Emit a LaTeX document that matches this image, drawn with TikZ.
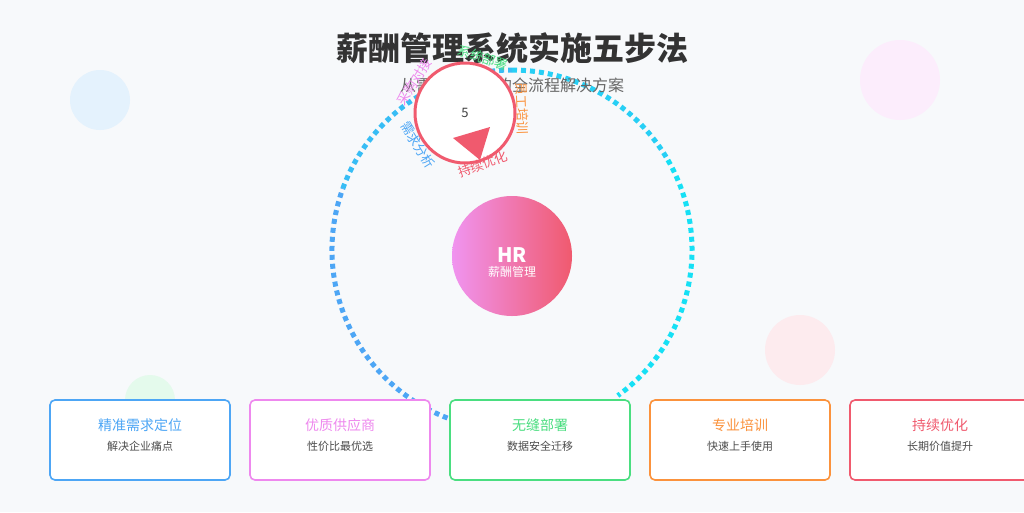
\documentclass[tikz,border=0pt]{standalone}
\usepackage{fontspec}
\setmainfont{Noto Sans CJK SC}
\usetikzlibrary{shadings}
\definecolor{bg}{HTML}{F7F9FB}
\definecolor{cblue}{HTML}{4DA6F5}
\definecolor{ccyan}{HTML}{16E0F5}
\definecolor{cpurp}{HTML}{EE88EE}
\definecolor{cgreen}{HTML}{4ADE80}
\definecolor{corange}{HTML}{FB923C}
\definecolor{cred}{HTML}{F05A6E}
\tikzset{card/.style={draw, line width=1.6pt, rounded corners=5pt, fill=white, minimum width=180pt, minimum height=80pt},
ctitle/.style={font=\fontsize{14}{16}\selectfont},
csub/.style={font=\fontsize{11}{13}\selectfont, text=black!70},
lab/.style={font=\fontsize{13}{15}\selectfont}}
\begin{document}
\begin{tikzpicture}[x=1pt,y=-1pt]
\fill[bg] (0,0) rectangle (1024,512);
\useasboundingbox (0,0) rectangle (1024,512);
\fill[cblue!15] (100,100) circle (30);
\fill[cpurp!15] (900,80) circle (40);
\fill[cred!12] (800,350) circle (35);
\fill[cgreen!15] (150,400) circle (25);
% big dashed ring
\begin{scope}[line width=5pt, dash pattern=on 5pt off 4pt]
\draw[cblue] (512,250) ++(111:180) arc (111:200:180);
\draw[cblue!60!ccyan] (512,250) ++(200:180) arc (200:270:180);
\draw[cblue!30!ccyan] (512,250) ++(270:180) arc (270:330:180);
\draw[ccyan] (512,250) ++(330:180) arc (330:414:180);
\end{scope}
\node[font=\fontsize{32}{36}\selectfont\bfseries, text=black!80] (title) at (512,48) {薪酬管理系统实施五步法};
\node[font=\fontsize{16}{18}\selectfont, text=black!60] (sub) at (512,85) {从需求到落地的全流程解决方案};
% small circle
\node[circle, draw=cred, line width=3pt, fill=white, minimum size=100pt] (wheel) at (465,113) {};
\node[font=\fontsize{13}{15}\selectfont, text=black!75] (five) at (465,113) {5};
\fill[cred] (453,138) -- (490,127) -- (480,160) -- cycle;
\node[lab, text=cblue, rotate=-58] (l1) at (418,145) {需求分析};
\node[lab, text=cpurp, rotate=58] (l2) at (414,82) {采购对接};
\node[lab, text=cgreen, rotate=-18] (l3) at (483,58) {系统部署};
\node[lab, text=corange, rotate=-88] (l4) at (522,108) {员工培训};
\node[lab, text=cred, rotate=20] (l5) at (483,164) {持续优化};
% HR
\shade[left color=cpurp!90!white, right color=cred] (512,256) circle (60);
\node[text=white, font=\fontsize{20}{22}\selectfont\bfseries] (hr) at (512,255) {HR};
\node[text=white, font=\fontsize{12}{14}\selectfont] (hrs) at (512,272) {薪酬管理};
% cards
\foreach \i/\c/\t/\s in {1/cblue/精准需求定位/解决企业痛点,2/cpurp/优质供应商/性价比最优选,3/cgreen/无缝部署/数据安全迁移,4/corange/专业培训/快速上手使用,5/cred/持续优化/长期价值提升}{
 \node[card, draw=\c] (card\i) at (140+200*\i-200,440) {};
 \node[ctitle, text=\c] (ct\i) at (140+200*\i-200,425) {\t};
 \node[csub] (cs\i) at (140+200*\i-200,446) {\s};
}
\end{tikzpicture}
\end{document}
